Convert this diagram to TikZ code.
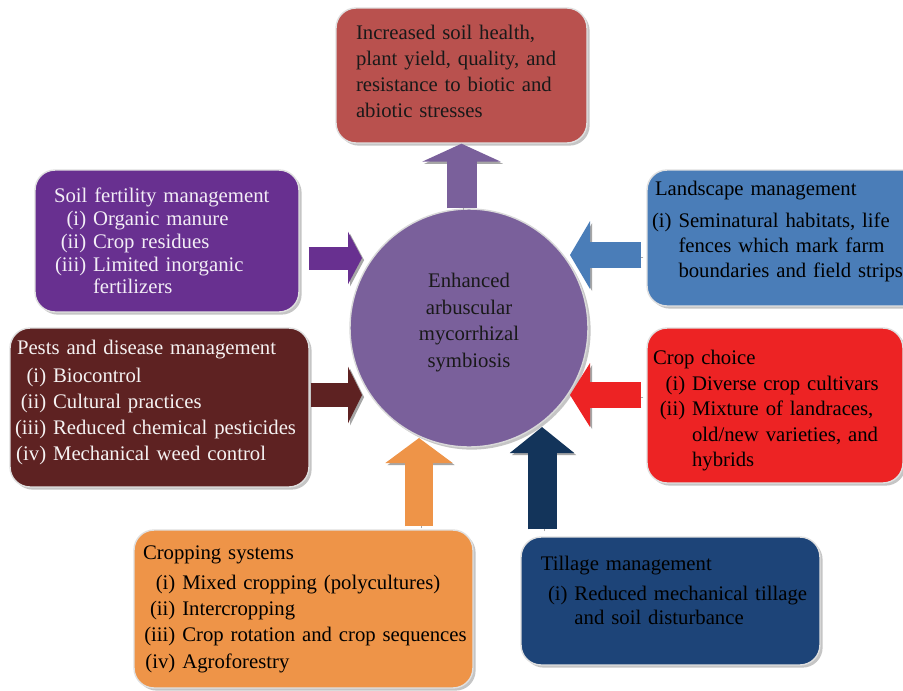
\documentclass[tikz,border=0pt]{standalone}
\usepackage{fontspec}
\setmainfont{Liberation Serif}
\usepackage{xcolor}
\usetikzlibrary{arrows.meta,shadows,calc}

\definecolor{effectred}{RGB}{185,81,78}
\definecolor{soilpurple}{RGB}{104,48,144}
\definecolor{landblue}{RGB}{74,125,184}
\definecolor{pestbrown}{RGB}{94,34,34}
\definecolor{choicered}{RGB}{237,35,36}
\definecolor{systemorange}{RGB}{238,148,72}
\definecolor{tillblue}{RGB}{29,68,120}
\definecolor{tillarrow}{RGB}{19,52,90}
\definecolor{amfpurple}{RGB}{122,96,155}

\newcommand{\itm}[2][1.55em]{\makebox[#1][r]{#2}\ }
\newcommand{\nxt}[1][1.55em]{\makebox[#1]{}\ }

\begin{document}
\begin{tikzpicture}
[
x=0.02cm, y=-0.02cm,
box-a/.style={rectangle, rounded corners=0.4cm, draw=white!88!black, line width=0.8pt, align=left, inner ysep=0pt,
              drop shadow={shadow xshift=1.5pt, shadow yshift=-1.5pt, opacity=0.45}},
text-a/.style={font=\fontsize{11.8}{#1}\selectfont},
arrow-a/.style n args={4}{draw=#4, line width=#1, -{Triangle[width=#2, length=#3]},
              preaction={draw=black!35, transform canvas={xshift=1.2pt, yshift=-1.2pt}}}
]
\useasboundingbox [fill=white] (0,0) rectangle (903,690);

\node (amf)       [circle, fill=amfpurple, draw=white!85!black, line width=0.8pt, minimum size=4.76cm, align=center,
                   text=black!90, text-a=15.1pt, drop shadow={shadow xshift=1.5pt, shadow yshift=-1.5pt, opacity=0.45}]
                   at (469,328) {Enhanced\\arbuscular\\mycorrhizal\\symbiosis\\[-6.1pt]\mbox{}};

\node (effect)    [box-a, fill=effectred, text=black!90, text-a=14.7pt, minimum width=5.02cm, minimum height=2.70cm,
                   inner xsep=0.40cm, text width=4.22cm] at (461.5,75.5)
                   {Increased soil health,\\plant yield, quality, and\\resistance to biotic and\\abiotic stresses\\[-9.7pt]\mbox{}};
\node (soil)      [box-a, fill=soilpurple, text=white!92!soilpurple, text-a=13pt, minimum width=5.28cm, minimum height=2.84cm,
                   inner xsep=0.38cm, text width=4.52cm] at (167,241)
                   {Soil fertility management\\
                    \itm{(i)}Organic manure\\
                    \itm{(ii)}Crop residues\\
                    \itm{(iii)}Limited inorganic\\
                    \nxt fertilizers};
\node (landscape) [box-a, fill=landblue, text=black, text-a=14.5pt, minimum width=5.60cm, minimum height=2.72cm,
                   inner xsep=0.10cm, text width=5.40cm] at (787,238)
                   {\hspace*{1.7pt}Landscape management\\[3.5pt]
                    (i) Seminatural habitats, life\\
                    \phantom{(i)}\ fences which mark farm\\
                    \phantom{(i)}\ boundaries and field strips\\[-4.8pt]\mbox{}};
\node (pests)     [box-a, fill=pestbrown, text=white!94!pestbrown, text-a=14.7pt, minimum width=5.98cm, minimum height=3.18cm,
                   inner xsep=0.08cm, text width=5.82cm] at (159.5,407.5)
                   {\hspace*{1.7pt}Pests and disease management\\[1.2pt]
                    \itm{(i)}Biocontrol\\
                    \itm{(ii)}Cultural practices\\
                    \itm{(iii)}Reduced chemical pesticides\\
                    \itm{(iv)}Mechanical weed control\\[-6.7pt]\mbox{}};
\node (choice)    [box-a, fill=choicered, text=black, text-a=14.5pt, minimum width=5.12cm, minimum height=3.10cm,
                   inner xsep=0.12cm, text width=4.88cm] at (775,405.5)
                   {Crop choice\\
                    \itm{(i)}Diverse crop cultivars\\
                    \itm{(ii)}Mixture of landraces,\\
                    \nxt old/new varieties, and\\
                    \nxt hybrids\\[-17.9pt]\mbox{}};
\node (system)    [box-a, fill=systemorange, text=black, text-a=15pt, minimum width=6.78cm, minimum height=3.16cm,
                   inner xsep=0.06cm, text width=6.66cm] at (303.5,609)
                   {\hspace*{3.4pt}Cropping systems\\[2pt]
                    \itm[1.85em]{(i)}Mixed cropping (polycultures)\\
                    \itm[1.85em]{(ii)}Intercropping\\
                    \itm[1.85em]{(iii)}Crop rotation and crop sequences\\
                    \itm[1.85em]{(iv)}Agroforestry};
\node (tillage)   [box-a, fill=tillblue, text=black, text-a=13.6pt, minimum width=5.98cm, minimum height=2.56cm,
                   inner xsep=0.16cm, text width=5.66cm] at (670.5,601)
                   {\hspace*{6.8pt}Tillage management\\[3.4pt]
                    \hspace*{10.8pt}(i) Reduced mechanical tillage\\
                    \hspace*{10.8pt}\phantom{(i)}\ and soil disturbance\\[-1.1pt]\mbox{}};

\coordinate (tip-soil)      at (362,258);
\coordinate (tip-pests)     at (362,395);
\coordinate (tip-landscape) at (570,255);
\coordinate (tip-choice)    at (570,395);
\coordinate (tip-system)    at (419,438);
\coordinate (tip-tillage)   at (542,427);

\draw [arrow-a={0.60cm}{1.56cm}{0.36cm}{amfpurple}]    (effect.south |- amf.north) -- (effect.south);
\draw [arrow-a={0.46cm}{1.04cm}{0.28cm}{soilpurple}]   ($(soil.east |- tip-soil)+(9,0)$) -- (tip-soil);
\draw [arrow-a={0.48cm}{1.12cm}{0.28cm}{pestbrown}]    ($(pests.east |- tip-pests)+(1,0)$) -- (tip-pests);
\draw [arrow-a={0.52cm}{1.34cm}{0.40cm}{landblue}]     ($(landscape.west |- tip-landscape)+(-5,0)$) -- (tip-landscape);
\draw [arrow-a={0.52cm}{1.26cm}{0.40cm}{choicered}]    ($(choice.west |- tip-choice)+(-5,0)$) -- (tip-choice);
\draw [arrow-a={0.56cm}{1.32cm}{0.50cm}{systemorange}] ($(system.north -| tip-system)+(0,-3)$) -- (tip-system);
\draw [arrow-a={0.58cm}{1.26cm}{0.52cm}{tillarrow}]    ($(tillage.north -| tip-tillage)+(0,-7)$) -- (tip-tillage);
\end{tikzpicture}
\end{document}
